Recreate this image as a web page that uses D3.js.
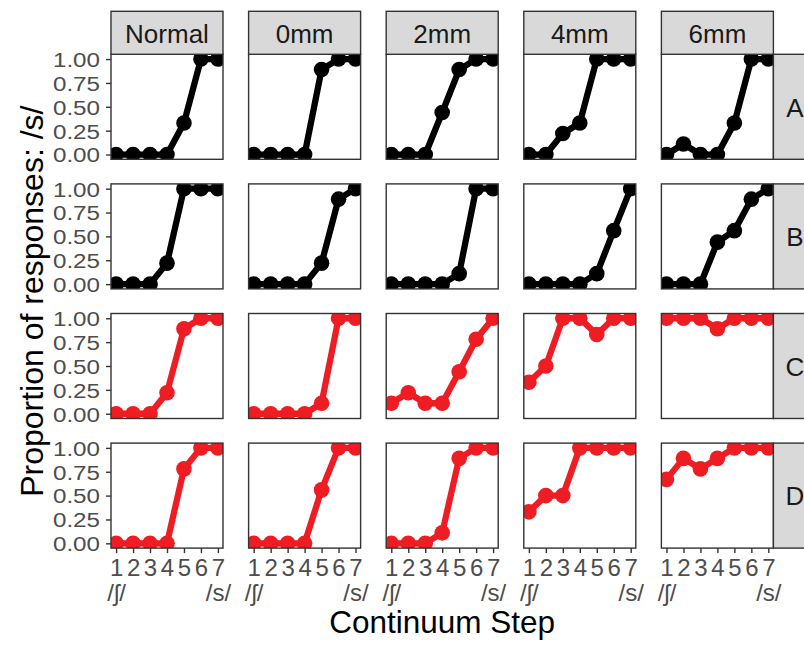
<!DOCTYPE html>
<html>
<head>
<meta charset="utf-8">
<script src="https://cdn.jsdelivr.net/npm/d3@7/dist/d3.min.js"></script>
<style>
  body { margin: 0; background: #ffffff; }
  svg { display: block; font-family: "Liberation Sans", Arial, Helvetica, sans-serif; }
</style>
</head>
<body>
<svg id="chart" width="804" height="645"></svg>
<script>
// Facet columns (conditions) and facet rows (groups)
const conditions = ["Normal", "0mm", "2mm", "4mm", "6mm"];
const groups = ["A", "B", "C", "D"];
const steps = [1, 2, 3, 4, 5, 6, 7];
const yTicks = [0, 0.25, 0.5, 0.75, 1];
const stepEndLabels = { 1: "/ʃ/", 7: "/s/" };
const groupColors = ["#000000", "#000000", "#EE1D23", "#EE1D23"];

// Proportion of /s/ responses per continuum step, one array per condition
const groupA = [
  [0, 0, 0, 0, 0.33, 1, 1],
  [0, 0, 0, 0, 0.89, 1, 1],
  [0, 0, 0, 0.44, 0.89, 1, 1],
  [0, 0, 0.22, 0.33, 1, 1, 1],
  [0, 0.11, 0, 0, 0.33, 1, 1]
];
const groupB = [
  [0, 0, 0, 0.22, 1, 1, 1],
  [0, 0, 0, 0, 0.22, 0.89, 1],
  [0, 0, 0, 0, 0.11, 1, 1],
  [0, 0, 0, 0, 0.11, 0.56, 1],
  [0, 0, 0, 0.44, 0.56, 0.89, 1]
];
const groupC = [
  [0, 0, 0, 0.22, 0.89, 1, 1],
  [0, 0, 0, 0, 0.11, 1, 1],
  [0.11, 0.22, 0.11, 0.11, 0.44, 0.78, 1],
  [0.33, 0.5, 1, 1, 0.83, 1, 1],
  [1, 1, 1, 0.89, 1, 1, 1]
];
const groupD = [
  [0, 0, 0, 0, 0.78, 1, 1],
  [0, 0, 0, 0, 0.56, 1, 1],
  [0, 0, 0, 0.11, 0.89, 1, 1],
  [0.33, 0.5, 0.5, 1, 1, 1, 1],
  [0.67, 0.89, 0.78, 0.89, 1, 1, 1]
];
const groupValues = [groupA, groupB, groupC, groupD];

// Layout
const panelW = 112, panelH = 105;
const colStep = 137.6, rowStep = 129.6;
const left0 = 111, top0 = 54.3;
const stripH = 43, stripW = 43;
const ink = "#333333";
const tickFont = 24, yTickFont = 20.5, yTickStretch = 1.18;
const stripFont = 26, titleFont = 31.5;

const svg = d3.select("#chart");

const x = d3.scaleLinear().domain([0.7, 7.3]).range([0, panelW]);
const y = d3.scaleLinear().domain([-0.05, 1.05]).range([panelH, 0]);

const line = d3.line().x((d, i) => x(steps[i])).y(d => y(d));

groups.forEach((g, r) => {
  conditions.forEach((c, ci) => {
    const px = left0 + ci * colStep;
    const py = top0 + r * rowStep;
    const panel = svg.append("g").attr("transform", `translate(${px},${py})`);
    const clipId = `clip-${r}-${ci}`;
    panel.append("clipPath").attr("id", clipId)
      .append("rect").attr("width", panelW).attr("height", panelH);

    panel.append("rect").attr("width", panelW).attr("height", panelH).attr("fill", "#ffffff");

    const vals = groupValues[r][ci];
    const body = panel.append("g").attr("clip-path", `url(#${clipId})`);
    body.append("path")
      .datum(vals)
      .attr("d", line)
      .attr("fill", "none")
      .attr("stroke", groupColors[r])
      .attr("stroke-width", 6.3)
      .attr("stroke-linejoin", "round");
    body.selectAll("circle")
      .data(vals)
      .join("circle")
      .attr("cx", (d, i) => x(steps[i]))
      .attr("cy", d => y(d))
      .attr("r", 7.8)
      .attr("fill", groupColors[r]);

    panel.append("rect").attr("width", panelW).attr("height", panelH)
      .attr("fill", "none").attr("stroke", ink).attr("stroke-width", 1.4);

    // Top strips
    if (r === 0) {
      const s = panel.append("g").attr("transform", `translate(0,${-stripH})`);
      s.append("rect").attr("width", panelW).attr("height", stripH)
        .attr("fill", "#D9D9D9").attr("stroke", ink).attr("stroke-width", 1.4);
      s.append("text").attr("x", panelW / 2).attr("y", stripH / 2 + 9.8)
        .attr("text-anchor", "middle").attr("font-size", stripFont).attr("fill", "#1A1A1A")
        .text(c);
    }
    // Right strips
    if (ci === conditions.length - 1) {
      const s = panel.append("g").attr("transform", `translate(${panelW},0)`);
      s.append("rect").attr("width", stripW).attr("height", panelH)
        .attr("fill", "#D9D9D9").attr("stroke", ink).attr("stroke-width", 1.4);
      s.append("text").attr("x", stripW / 2).attr("y", panelH / 2 + 9.8)
        .attr("text-anchor", "middle").attr("font-size", stripFont).attr("fill", "#1A1A1A")
        .text(g);
    }
    // Y axis on first column
    if (ci === 0) {
      const tickLen = 5, pad = 6;
      const ax = panel.append("g").call(
        d3.axisLeft(y).tickValues(yTicks).tickFormat(d3.format(".2f")).tickSize(tickLen).tickPadding(pad)
      );
      ax.select(".domain").remove();
      ax.selectAll(".tick line").attr("stroke", ink).attr("stroke-width", 1.4);
      // slightly widened glyphs so labels stay compact vertically
      ax.selectAll(".tick text")
        .attr("font-size", yTickFont).attr("fill", "#4D4D4D")
        .attr("font-family", "'Liberation Sans', Arial, sans-serif")
        .attr("dy", "0.36em")
        .attr("x", -(tickLen + pad) / yTickStretch)
        .attr("transform", `scale(${yTickStretch},1)`);
    }
    // X axis on bottom row
    if (r === groups.length - 1) {
      const ax = panel.append("g").attr("transform", `translate(0,${panelH})`).call(
        d3.axisBottom(x).tickValues(steps).tickFormat(d => d).tickSize(5)
      );
      ax.select(".domain").remove();
      ax.selectAll(".tick line").attr("stroke", ink).attr("stroke-width", 1.4);
      ax.selectAll(".tick text").each(function(d) {
        const t = d3.select(this);
        t.text(null).attr("y", 0).attr("dy", null)
          .attr("font-size", tickFont).attr("fill", "#4D4D4D")
          .attr("font-family", "'Liberation Sans', Arial, sans-serif");
        t.append("tspan").attr("x", 0).attr("y", 27.6).text(d);
        if (stepEndLabels[d]) {
          t.append("tspan").attr("x", 0).attr("y", 52.5).text(stepEndLabels[d]);
        }
      });
    }
  });
});

// Axis titles
const panelsLeft = left0, panelsRight = left0 + 4 * colStep + panelW;
const panelsTop = top0, panelsBottom = top0 + 3 * rowStep + panelH;
svg.append("text")
  .attr("x", (panelsLeft + panelsRight) / 2).attr("y", 633)
  .attr("text-anchor", "middle").attr("font-size", titleFont).attr("fill", "#000000")
  .text("Continuum Step");
svg.append("text")
  .attr("transform", `translate(42.5,${(panelsTop + panelsBottom) / 2}) rotate(-90)`)
  .attr("text-anchor", "middle").attr("font-size", titleFont + 0.5).attr("fill", "#000000")
  .text("Proportion of responses: /s/");
</script>
</body>
</html>
